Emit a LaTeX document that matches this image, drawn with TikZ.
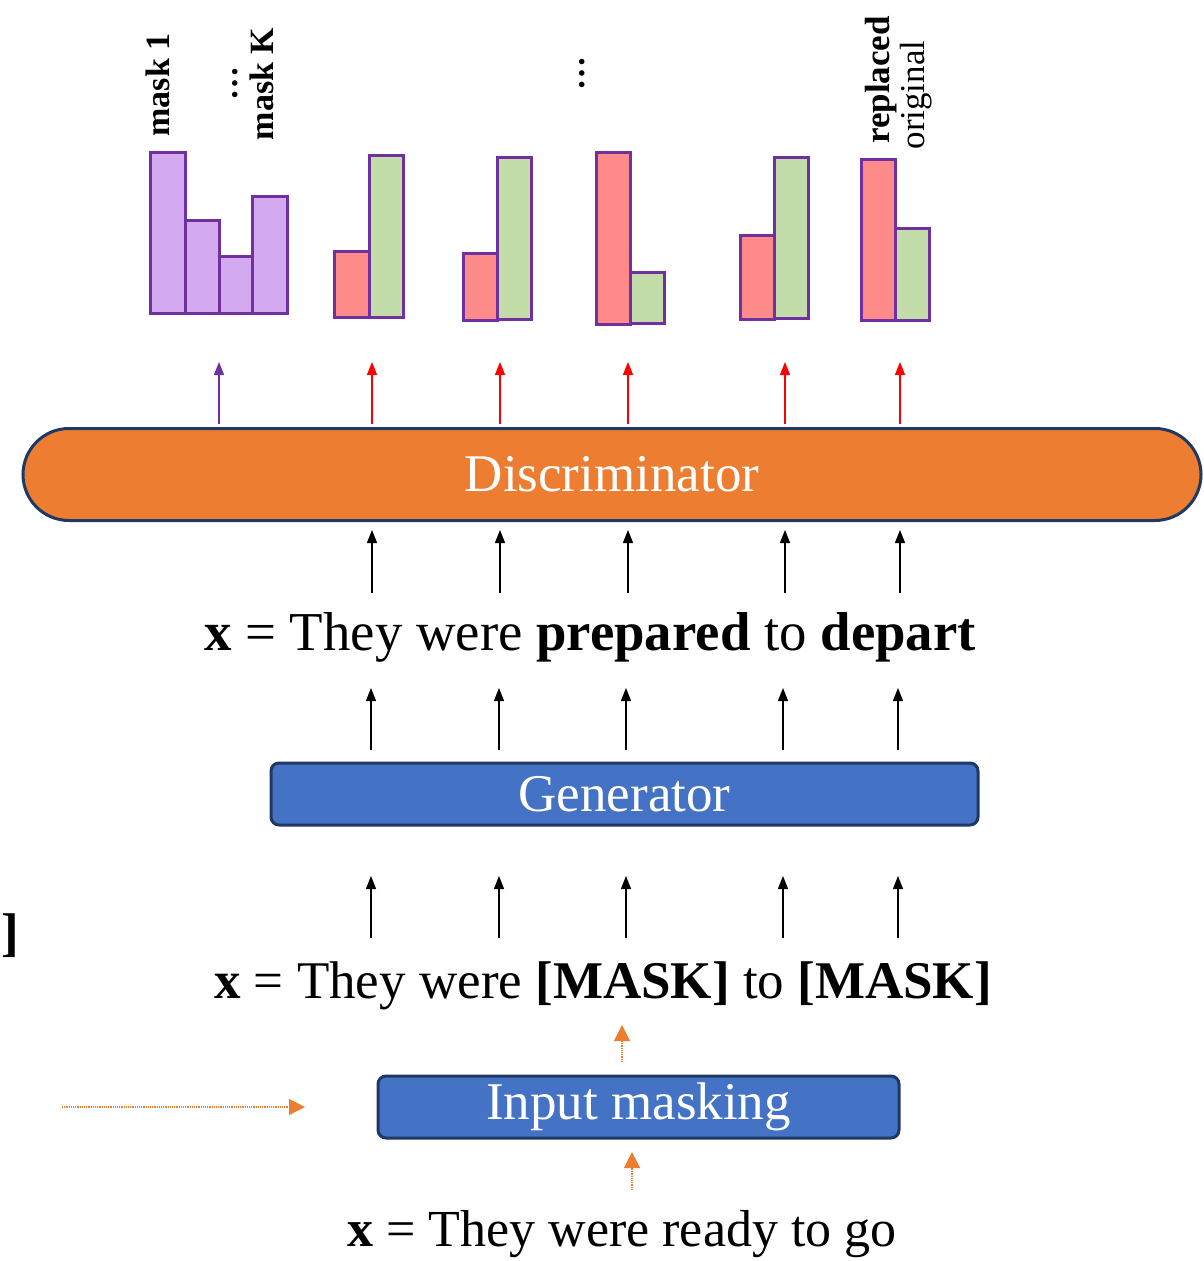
\documentclass[tikz,border=0pt]{standalone}
\usepackage{fontspec}
\setmainfont{Liberation Serif}
\usetikzlibrary{arrows.meta}

\definecolor{discorange}{HTML}{ED7D31}
\definecolor{genblue}{HTML}{4472C4}
\definecolor{boxedge}{HTML}{1F3864}
\definecolor{barpurple}{HTML}{7030A0}
\definecolor{barlilac}{HTML}{D3AAF0}
\definecolor{barred}{HTML}{FF8A8A}
\definecolor{bargreen}{HTML}{C2DCAA}

\tikzset{
  model/.style={draw=boxedge, line width=3pt, text=white, inner sep=0pt,
    font=\fontsize{53}{60}\selectfont},
  sentence/.style={inner sep=0pt, font=\fontsize{53}{60}\selectfont},
  barlabel/.style={rotate=90, inner sep=0pt, font=\fontsize{34}{38}\selectfont},
  bar/.style={draw=barpurple, line width=3pt},
  up/.style={-{Triangle[length=13pt,width=10pt]}, line width=1.2pt},
  dotup/.style={densely dotted, draw=discorange, line width=1.2pt,
    -{Triangle[length=16pt,width=16pt]}, discorange}
}

\begin{document}
\begin{tikzpicture}[x=1pt,y=-1pt]
\useasboundingbox (0,0) rectangle (1203,1261);

% models
\node[model, fill=discorange, rounded corners=46pt, minimum width=1178pt, minimum height=92pt] (disc) at (612,474.5) {Discriminator};
\node[model, fill=genblue, rounded corners=8pt, minimum width=707pt, minimum height=62pt] (gen) at (624.5,794) {Generator};
\node[model, fill=genblue, rounded corners=8pt, minimum width=521pt, minimum height=62pt] (mask) at (638.5,1107) {Input masking};

% sentences
\node[sentence, anchor=base, font=\fontsize{54.8}{60}\selectfont] (xout) at (590,650) {\textbf{x} = They were \textbf{prepared} to \textbf{depart}};
\node[sentence, anchor=base] (xmask) at (603,998) {\textbf{x} = They were \textbf{[MASK]} to \textbf{[MASK]}};
\node[sentence, anchor=base, font=\fontsize{52}{60}\selectfont] (xin) at (622,1246) {\textbf{x} = They were ready to go};
\node[sentence, anchor=base east] (brk) at (19,950) {\textbf{]}};

% arrows between the rows
\foreach \xx [count=\i] in {372,500,628,785,900} {
  \coordinate (dtop\i) at (\xx,424);
  \coordinate (dbar\i) at (\xx,362);
  \coordinate (dbot\i) at (\xx,593);
  \coordinate (dhit\i) at (\xx,530);
}
\foreach \xx [count=\i] in {371,499,626,783,898} {
  \coordinate (gtop\i) at (\xx,750);
  \coordinate (ghit\i) at (\xx,688);
  \coordinate (gbot\i) at (\xx,938);
  \coordinate (gin\i) at (\xx,876);
}
\foreach \i in {1,...,5} {
  \draw[up, red] (dtop\i) -- (dbar\i);
  \draw[up] (dbot\i) -- (dhit\i);
  \draw[up] (gtop\i) -- (ghit\i);
  \draw[up] (gbot\i) -- (gin\i);
}
\coordinate (ptop) at (219,424);
\coordinate (pbar) at (219,362);
\draw[up, barpurple] (ptop) -- (pbar);

% masking arrows
\coordinate (m1) at (622,1062);
\coordinate (m2) at (622,1025);
\coordinate (r1) at (632,1190);
\coordinate (r2) at (632,1152);
\coordinate (l1) at (62,1107);
\coordinate (l2) at (305,1107);
\draw[dotup] (m1) -- (m2);
\draw[dotup] (r1) -- (r2);
\draw[dotup] (l1) -- (l2);

% bars
\draw[bar, fill=barlilac] (150,313) rectangle (185,152);
\draw[bar, fill=barlilac] (185,313) rectangle (219,220);
\draw[bar, fill=barlilac] (219,313) rectangle (252,256);
\draw[bar, fill=barlilac] (252,313) rectangle (287,196);

\draw[bar, fill=barred] (334,317) rectangle (369,251);
\draw[bar, fill=bargreen] (369,317) rectangle (403,155);
\draw[bar, fill=barred] (463,320) rectangle (497,253);
\draw[bar, fill=bargreen] (497,319) rectangle (531,157);
\draw[bar, fill=barred] (596,324) rectangle (630,152);
\draw[bar, fill=bargreen] (630,323) rectangle (664,272);
\draw[bar, fill=barred] (740,319) rectangle (774,235);
\draw[bar, fill=bargreen] (774,318) rectangle (808,157);
\draw[bar, fill=barred] (861,320) rectangle (895,159);
\draw[bar, fill=bargreen] (895,320) rectangle (929,228);

% bar labels
\node[barlabel] (lmask1) at (158,85) {\textbf{mask 1}};
\node[barlabel] (ldots1) at (235,83) {\textbf{…}};
\node[barlabel] (lmaskk) at (262,84) {\textbf{mask K}};
\node[barlabel] (ldots2) at (582,73) {\textbf{…}};
\node[barlabel, font=\fontsize{35}{38}\selectfont] (lrep) at (881,80) {\textbf{replaced}};
\node[barlabel, font=\fontsize{35}{38}\selectfont] (lorig) at (916,95) {original};
\end{tikzpicture}
\end{document}
